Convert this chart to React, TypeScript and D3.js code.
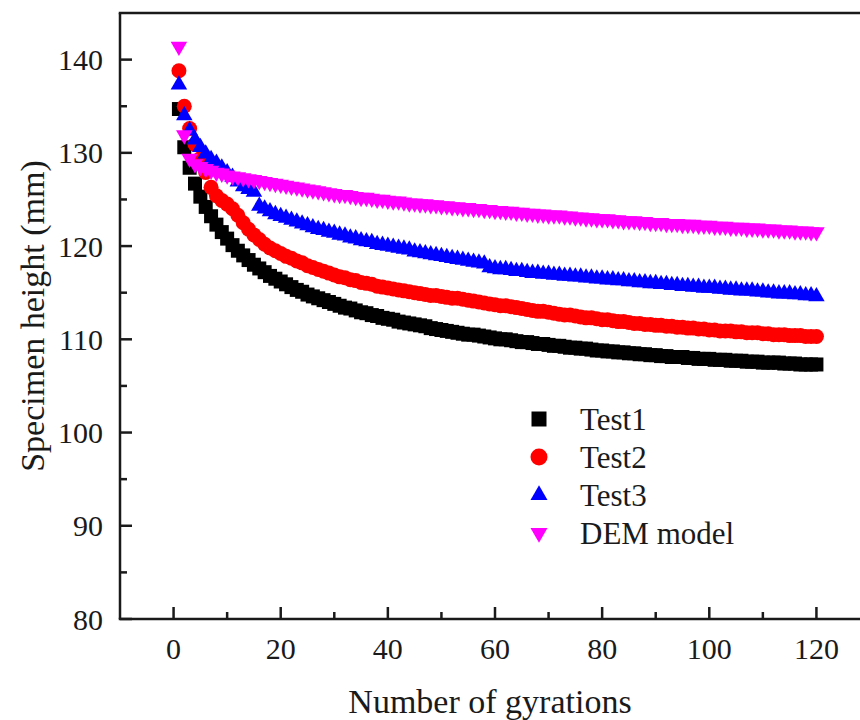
import React from "react";
import * as d3 from "d3";

const gyrations: number[] = Array.from({ length: 120 }, (_, i) => i + 1);

const test1: number[] = [
  134.7, 130.6, 128.4, 126.7, 125.3, 124.2, 123.2, 122.3, 121.5, 120.8,
  120.1, 119.5, 119.0, 118.5, 118.0, 117.6, 117.2, 116.8, 116.5, 116.2,
  115.9, 115.6, 115.3, 115.1, 114.8, 114.6, 114.4, 114.2, 114.0, 113.8,
  113.6, 113.4, 113.3, 113.1, 112.9, 112.8, 112.6, 112.5, 112.3, 112.2,
  112.1, 111.9, 111.8, 111.7, 111.6, 111.5, 111.4, 111.2, 111.1, 111.0,
  110.9, 110.8, 110.7, 110.6, 110.5, 110.5, 110.4, 110.3, 110.2, 110.1,
  110.0, 110.0, 109.9, 109.8, 109.7, 109.7, 109.6, 109.5, 109.5, 109.4,
  109.3, 109.3, 109.2, 109.1, 109.1, 109.0, 109.0, 108.9, 108.8, 108.8,
  108.7, 108.7, 108.6, 108.6, 108.5, 108.5, 108.4, 108.4, 108.3, 108.3,
  108.2, 108.2, 108.1, 108.1, 108.1, 108.0, 108.0, 107.9, 107.9, 107.9,
  107.8, 107.8, 107.8, 107.7, 107.7, 107.7, 107.6, 107.6, 107.6, 107.5,
  107.5, 107.5, 107.5, 107.4, 107.4, 107.4, 107.3, 107.3, 107.3, 107.3,
];

const test2: number[] = [
  138.8, 135.0, 132.6, 130.9, 129.4, 127.9, 126.3, 125.4, 124.9, 124.5,
  124.0, 123.3, 122.5, 121.8, 121.2, 120.7, 120.2, 119.8, 119.5, 119.2,
  118.9, 118.7, 118.4, 118.2, 117.9, 117.7, 117.5, 117.3, 117.1, 116.9,
  116.7, 116.6, 116.4, 116.3, 116.1, 116.0, 115.9, 115.7, 115.6, 115.5,
  115.4, 115.3, 115.2, 115.1, 115.0, 114.9, 114.8, 114.7, 114.7, 114.6,
  114.5, 114.4, 114.4, 114.3, 114.2, 114.1, 114.0, 113.9, 113.8, 113.7,
  113.6, 113.6, 113.5, 113.4, 113.3, 113.2, 113.1, 113.0, 113.0, 112.9,
  112.8, 112.7, 112.6, 112.6, 112.5, 112.4, 112.3, 112.3, 112.2, 112.1,
  112.1, 112.0, 111.9, 111.9, 111.8, 111.7, 111.7, 111.6, 111.6, 111.5,
  111.5, 111.4, 111.4, 111.3, 111.3, 111.2, 111.2, 111.1, 111.1, 111.0,
  111.0, 110.9, 110.9, 110.9, 110.8, 110.8, 110.7, 110.7, 110.7, 110.6,
  110.6, 110.5, 110.5, 110.5, 110.4, 110.4, 110.4, 110.3, 110.3, 110.3,
];

const test3: number[] = [
  137.3, 134.0, 132.4, 131.4, 130.6, 129.9, 129.3, 128.9, 128.4, 127.9,
  127.4, 126.9, 126.4, 126.1, 125.8, 124.3, 124.0, 123.7, 123.4, 123.2,
  123.0, 122.8, 122.6, 122.4, 122.2, 122.0, 121.8, 121.7, 121.5, 121.4,
  121.2, 121.1, 120.9, 120.8, 120.6, 120.5, 120.4, 120.2, 120.1, 120.0,
  119.9, 119.8, 119.7, 119.6, 119.4, 119.3, 119.2, 119.1, 119.0, 118.9,
  118.8, 118.7, 118.6, 118.5, 118.4, 118.3, 118.2, 118.1, 117.7, 117.6,
  117.5, 117.5, 117.4, 117.3, 117.3, 117.2, 117.1, 117.1, 117.0, 117.0,
  116.9, 116.9, 116.8, 116.8, 116.7, 116.7, 116.6, 116.6, 116.5, 116.5,
  116.4, 116.4, 116.3, 116.3, 116.2, 116.2, 116.1, 116.1, 116.0, 116.0,
  115.9, 115.9, 115.8, 115.8, 115.7, 115.7, 115.6, 115.6, 115.5, 115.5,
  115.5, 115.4, 115.4, 115.3, 115.3, 115.2, 115.2, 115.2, 115.1, 115.1,
  115.0, 115.0, 114.9, 114.9, 114.9, 114.8, 114.8, 114.7, 114.7, 114.6,
];

const demModel: number[] = [
  141.4, 131.9, 129.4, 128.8, 128.5, 128.3, 128.1, 127.9, 127.8, 127.6,
  127.5, 127.4, 127.3, 127.2, 127.1, 127.0, 126.9, 126.8, 126.7, 126.6,
  126.5, 126.4, 126.3, 126.2, 126.1, 126.0, 125.9, 125.8, 125.7, 125.6,
  125.5, 125.5, 125.4, 125.3, 125.2, 125.2, 125.1, 125.0, 125.0, 124.9,
  124.8, 124.8, 124.7, 124.6, 124.6, 124.5, 124.5, 124.4, 124.4, 124.3,
  124.3, 124.2, 124.2, 124.1, 124.1, 124.0, 124.0, 123.9, 123.9, 123.8,
  123.8, 123.7, 123.7, 123.6, 123.6, 123.5, 123.5, 123.4, 123.4, 123.3,
  123.3, 123.3, 123.2, 123.2, 123.1, 123.1, 123.0, 123.0, 122.9, 122.9,
  122.9, 122.8, 122.8, 122.7, 122.7, 122.7, 122.6, 122.6, 122.5, 122.5,
  122.5, 122.4, 122.4, 122.4, 122.3, 122.3, 122.3, 122.2, 122.2, 122.2,
  122.1, 122.1, 122.1, 122.0, 122.0, 122.0, 121.9, 121.9, 121.9, 121.8,
  121.8, 121.8, 121.7, 121.7, 121.7, 121.6, 121.6, 121.6, 121.5, 121.5,
];

const seriesNames: string[] = ["Test1", "Test2", "Test3", "DEM model"];
const seriesColors: string[] = ["#000000", "#ff0000", "#0000ff", "#ff00ff"];
const xMajorTicks: number[] = [0, 20, 40, 60, 80, 100, 120];
const xMinorTicks: number[] = [10, 30, 50, 70, 90, 110];
const yMajorTicks: number[] = [80, 90, 100, 110, 120, 130, 140];
const yMinorTicks: number[] = [85, 95, 105, 115, 125, 135];

const W = 860;
const H = 720;
const FONT = "Liberation Serif, Times New Roman, serif";

export default function App() {
  const x = d3.scaleLinear().domain([-10, 130]).range([120, 870]);
  const y = d3.scaleLinear().domain([80, 145]).range([619, 13]);

  const allSeries = [test1, test2, test3, demModel];
  const symbols = [
    d3.symbol().type(d3.symbolSquare).size(14 * 14)(),
    d3.symbol().type(d3.symbolCircle).size(Math.PI * 7.5 * 7.5)(),
    d3.symbol().type(d3.symbolTriangle).size(118)(),
    d3.symbol().type(d3.symbolTriangle).size(118)(),
  ];
  const legendSymbols = [
    d3.symbol().type(d3.symbolSquare).size(15 * 15)(),
    d3.symbol().type(d3.symbolCircle).size(Math.PI * 8.5 * 8.5)(),
    d3.symbol().type(d3.symbolTriangle).size(125)(),
    d3.symbol().type(d3.symbolTriangle).size(125)(),
  ];
  const rot = [0, 0, 0, 180];

  const x0 = x.range()[0];
  const x1 = x.range()[1];
  const yb = y.range()[0];
  const yt = y.range()[1];

  const legendY = [419, 457, 495, 533];
  const textStyle = { fontFamily: FONT };

  return (
    <svg
      width={W}
      height={H}
      style={{ position: "absolute", left: 0, top: 0, background: "#fff" }}
    >
      <rect x={0} y={0} width={W} height={H} fill="#fff" />
      {allSeries.map((vals, si) => (
        <g key={si} fill={seriesColors[si]}>
          {vals.map((v, i) => (
            <path
              key={i}
              d={symbols[si] as string}
              transform={`translate(${x(gyrations[i])},${y(v)}) rotate(${rot[si]})`}
            />
          ))}
        </g>
      ))}
      {/* frame */}
      <g stroke="#1a1a1a" strokeWidth={2.5} fill="none">
        <line x1={x0} y1={yt} x2={x0} y2={yb} />
        <line x1={x0 - 1.25} y1={yb} x2={x1} y2={yb} />
        <line x1={x0 - 1.25} y1={yt} x2={x1} y2={yt} />
        <line x1={x1} y1={yt} x2={x1} y2={yb} />
      </g>
      {/* ticks */}
      <g stroke="#1a1a1a" strokeWidth={2.5}>
        {xMajorTicks.map((t) => (
          <line key={"xM" + t} x1={x(t)} x2={x(t)} y1={yb} y2={yb - 12} />
        ))}
        {xMinorTicks.map((t) => (
          <line key={"xm" + t} x1={x(t)} x2={x(t)} y1={yb} y2={yb - 7} />
        ))}
        {yMajorTicks.map((t) => (
          <line key={"yM" + t} x1={x0} x2={x0 + 12} y1={y(t)} y2={y(t)} />
        ))}
        {yMinorTicks.map((t) => (
          <line key={"ym" + t} x1={x0} x2={x0 + 7} y1={y(t)} y2={y(t)} />
        ))}
      </g>
      {/* tick labels */}
      <g fontSize={30} fill="#1a1a1a" style={textStyle}>
        {xMajorTicks.map((t) => (
          <text key={"xl" + t} x={x(t)} y={659} textAnchor="middle" style={textStyle}>
            {t}
          </text>
        ))}
        {yMajorTicks.map((t) => (
          <text
            key={"yl" + t}
            x={103}
            y={y(t)}
            textAnchor="end"
            dominantBaseline="central"
            style={textStyle}
          >
            {t}
          </text>
        ))}
      </g>
      {/* axis titles */}
      <text
        x={490}
        y={713}
        textAnchor="middle"
        fontSize={34}
        fill="#1a1a1a"
        style={textStyle}
      >
        Number of gyrations
      </text>
      <text
        transform={`translate(44,316) rotate(-90)`}
        textAnchor="middle"
        fontSize={34}
        fill="#1a1a1a"
        style={textStyle}
      >
        Specimen height (mm)
      </text>
      {/* legend */}
      {seriesNames.map((name, si) => (
        <g key={"lg" + si}>
          <path
            d={legendSymbols[si] as string}
            fill={seriesColors[si]}
            transform={`translate(539,${legendY[si]}) rotate(${rot[si]})`}
          />
          <text
            x={580}
            y={legendY[si]}
            dominantBaseline="central"
            fontSize={31}
            fill="#1a1a1a"
            style={textStyle}
          >
            {name}
          </text>
        </g>
      ))}
    </svg>
  );
}
